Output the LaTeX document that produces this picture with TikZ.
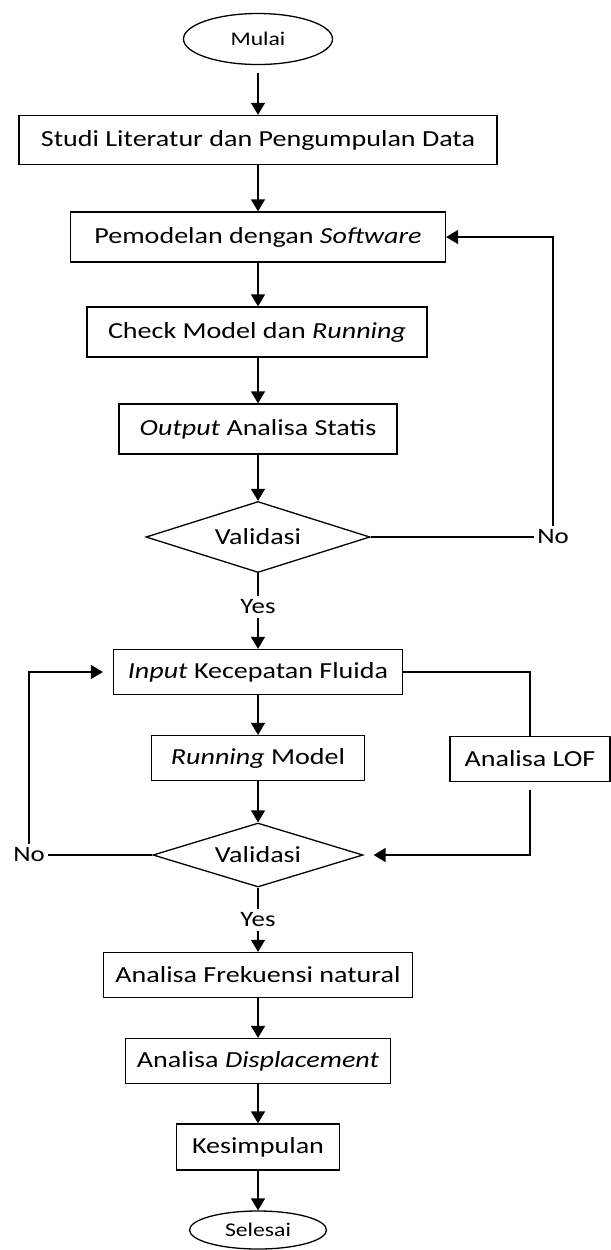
\documentclass[tikz,border=0pt]{standalone}
\usepackage{fontspec}
\setmainfont[FakeStretch=1.22]{Carlito}
\usetikzlibrary{shapes.geometric,arrows.meta}

\tikzset{
    proses/.style    = {draw, line width = 0.65pt, inner sep = 0pt, minimum height = 22.5pt,
                        font = \fontsize{11.5}{13}\selectfont},
    keputusan/.style = {draw, diamond, line width = 0.65pt, inner sep = 0pt, aspect = 3,
                        font = \fontsize{11.5}{13}\selectfont},
    terminal/.style  = {draw, ellipse, line width = 0.65pt, inner sep = 0pt,
                        font = \fontsize{9.7}{11}\selectfont},
    label/.style     = {inner sep = 1.5pt, font = \fontsize{11}{12}\selectfont},
    alur/.style      = {line width = 0.7pt, -{Triangle[length = 6pt, width = 7pt]}},
    garis/.style     = {line width = 0.7pt}
}

\begin{document}
\begin{tikzpicture}[x = 0.5pt, y = -0.5pt]
                \useasboundingbox (0,0) rectangle (611,1250);

                \node [terminal, minimum width = 74.5pt, minimum height = 25.5pt]  (mulai)     at (258,39)   {Mulai};
                \node [proses, minimum width = 239pt, minimum height = 24.5pt]     (studi)     at (258,140)  {Studi Literatur dan Pengumpulan Data};
                \node [proses, minimum width = 187.5pt, minimum height = 25pt]     (pemodelan) at (258,237)  {Pemodelan dengan \textit{Software}};
                \node [proses, minimum width = 170pt, minimum height = 25pt]       (check)     at (257,332)  {Check Model dan \textit{Running}};
                \node [proses, minimum width = 139pt, minimum height = 25pt]       (statis)    at (258,429)  {\textit{Output} Analisa Statis};
                \node [keputusan, minimum width = 112pt, minimum height = 35.5pt]  (validA)    at (258,537)  {Validasi};
                \node [label]                                                       (noA)       at (553,537)  {No};
                \node [label]                                                       (yesA)      at (258,607)  {Yes};

                \node [proses, minimum width = 144.5pt]                             (fluida)    at (258,672)  {\textit{Input} Kecepatan Fluida};
                \node [proses, minimum width = 106.5pt]                             (running)   at (258,758)  {\textit{Running} Model};
                \node [proses, minimum width = 80pt]                                (lof)       at (530,759)  {Analisa LOF};
                \node [keputusan, minimum width = 105pt, minimum height = 32pt]    (validB)    at (258,855)  {Validasi};
                \node [label]                                                       (noB)       at (29,855)   {No};
                \node [label]                                                       (yesB)      at (258,920)  {Yes};

                \node [proses, minimum width = 154.5pt]                             (frekuensi) at (258,975)  {Analisa Frekuensi natural};
                \node [proses, minimum width = 132.5pt]                             (displ)     at (258,1061) {Analisa \textit{Displacement}};
                \node [proses, minimum width = 81.5pt, minimum height = 23pt]      (simpul)    at (258,1147) {Kesimpulan};
                \node [terminal, minimum width = 68.5pt, minimum height = 19pt]    (selesai)   at (258,1230) {Selesai};

                \draw [alur, shorten <= 4pt]        (mulai)       -- (studi);
                \draw [alur]                        (studi)       -- (pemodelan);
                \draw [alur]                        (pemodelan)   -- (check.north -| pemodelan);
                \draw [alur]                        (check.south -| statis) -- (statis);
                \draw [alur]                        (statis)      -- (validA);
                \draw [garis]                       (validA.east) -- (noA.west);
                \draw [alur]                        (noA.north)   |- (pemodelan.east);
                \draw [garis]                       (validA)      -- (yesA);
                \draw [alur]                        (yesA)        -- (fluida);

                \draw [alur]                        (fluida)      -- (running);
                \draw [alur]                        (running)     -- (validB);
                \draw [garis]                       (fluida.east) -| (lof.north);
                \draw [alur, shorten <= 4pt, shorten >= 5pt] (lof.south) |- (validB.east);
                \draw [garis]                       (validB.west) -- (noB.east);
                \draw [alur, shorten >= 5pt]        (noB.north)   |- (fluida.west);
                \draw [garis]                       (validB)      -- (yesB);
                \draw [alur]                        (yesB)        -- (frekuensi);

                \draw [alur]                        (frekuensi)   -- (displ);
                \draw [alur]                        (displ)       -- (simpul);
                \draw [alur]                        (simpul)      -- (selesai);
            \end{tikzpicture}
\end{document}
